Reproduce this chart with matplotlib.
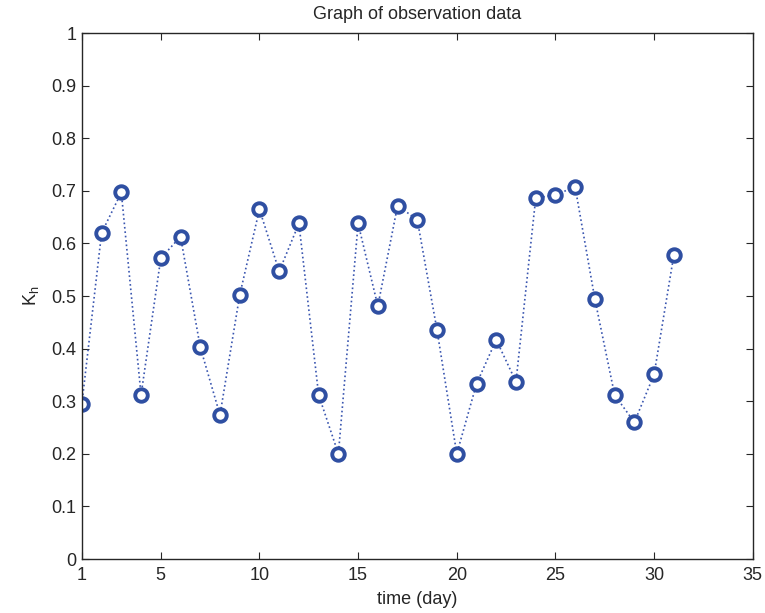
import matplotlib
matplotlib.use("Agg")
import matplotlib.pyplot as plt

days = list(range(1, 32))
kh = [0.295, 0.620, 0.697, 0.312, 0.572, 0.613, 0.403, 0.274, 0.502, 0.665,
      0.547, 0.638, 0.312, 0.200, 0.638, 0.481, 0.672, 0.645, 0.435, 0.200,
      0.333, 0.417, 0.337, 0.686, 0.693, 0.707, 0.494, 0.312, 0.260, 0.351,
      0.578]
xticks = [1, 5, 10, 15, 20, 25, 30, 35]
yticks = [0, 0.1, 0.2, 0.3, 0.4, 0.5, 0.6, 0.7, 0.8, 0.9, 1]
ylabels = ["0", "0.1", "0.2", "0.3", "0.4", "0.5", "0.6", "0.7", "0.8", "0.9", "1"]

plt.rcParams["font.family"] = ["Liberation Sans", "DejaVu Sans"]
plt.rcParams["font.size"] = 13
plt.rcParams["text.color"] = "#262626"
plt.rcParams["xtick.color"] = "#262626"
plt.rcParams["ytick.color"] = "#262626"
plt.rcParams["axes.labelcolor"] = "#262626"

fig = plt.figure(figsize=(7.65, 6.13), dpi=100)
ax = fig.add_axes([0.107, 0.088, 0.877, 0.858])

ax.plot(days, kh, linestyle=":", color="#3a56b0", linewidth=1.2)
ax.plot(days, kh, linestyle="none", marker="o", markersize=9,
        markerfacecolor="white", markeredgecolor="#2f4fa2", markeredgewidth=2.8)

ax.set_xlim(1, 35)
ax.set_ylim(0, 1)
ax.set_xticks(xticks)
ax.set_yticks(yticks)
ax.set_yticklabels(ylabels)
ax.tick_params(direction="in", top=True, right=True, length=5, width=0.8)
ax.tick_params(axis="x", pad=6)
ax.tick_params(axis="y", pad=4)
for s in ax.spines.values():
    s.set_linewidth(1.0)
    s.set_color("#262626")

ax.set_title("Graph of observation data", fontsize=13, pad=10)
ax.set_xlabel("time (day)", labelpad=5)
ax.set_ylabel("K$_\\mathregular{h}$", labelpad=7)

fig.savefig("out.png", dpi=100)
